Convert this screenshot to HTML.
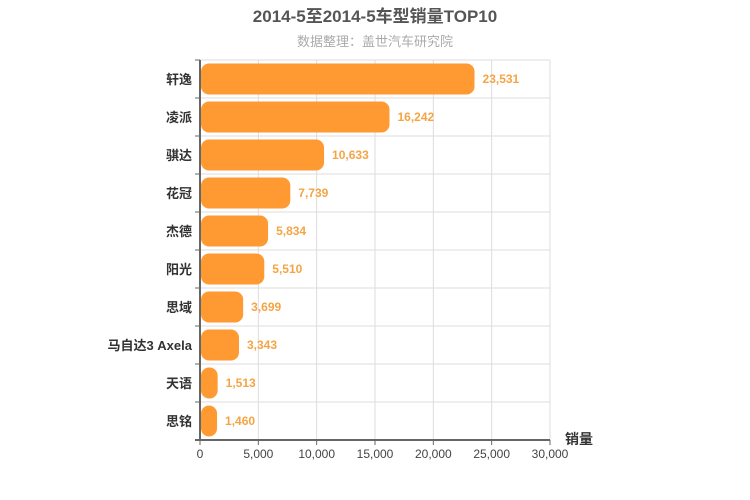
<!DOCTYPE html>
<html><head><meta charset="utf-8"><style>
body{margin:0;background:#fff;}
svg{display:block;font-family:"Liberation Sans","Noto Sans CJK SC",sans-serif;}
</style></head><body>
<svg id="c" width="750" height="500">
<text x="375" y="22" text-anchor="middle" font-size="17" font-weight="bold" fill="#555">2014-5至2014-5车型销量TOP10</text>
<text x="375" y="46" text-anchor="middle" font-size="13" fill="#aaa">数据整理：盖世汽车研究院</text>
<g id="grid"></g><g id="bars"></g><g id="axes"></g>
<text x="565" y="444" font-size="14" font-weight="bold" fill="#333">销量</text>
</svg>
<script>
const categories=["轩逸","凌派","骐达","花冠","杰德","阳光","思域","马自达3 Axela","天语","思铭"];
const values=[23531,16242,10633,7739,5834,5510,3699,3343,1513,1460];
const ticks=[0,5000,10000,15000,20000,25000,30000];
const X0=200,X1=550,Y0=60,Y1=440,MAX=30000;
const ns="http://www.w3.org/2000/svg";
const x=v=>X0+(v/MAX)*(X1-X0);
const rowH=(Y1-Y0)/categories.length;
const y=i=>Y0+i*rowH;
const fmt=v=>v.toLocaleString("en-US");
function mk(t,a,p){const e=document.createElementNS(ns,t);for(const k in a)e.setAttribute(k,a[k]);p.appendChild(e);return e;}
const g=document.getElementById("grid"),b=document.getElementById("bars"),ax=document.getElementById("axes");
ticks.forEach(t=>{
 if(t>0){const l=mk("line",{x1:x(t),x2:x(t),y1:Y0,y2:Y1,stroke:"#ddd"},g);
 
 }
 const tk=mk("line",{x1:x(t),x2:x(t),y1:Y1,y2:Y1+5,stroke:"#666"},ax);
 
 
 const tx=mk("text",{x:x(t),y:Y1+18,"text-anchor":"middle","font-size":12,fill:"#444"},ax);
 tx.textContent=fmt(t);
 
 
});
categories.forEach((c,i)=>{
 if(i>0){const l=mk("line",{x1:X0,x2:X1,y1:y(i),y2:y(i),stroke:"#ddd"},g);
 
 }
 const tk=mk("line",{x1:X0-5,x2:X0,y1:y(i),y2:y(i),stroke:"#666"},ax);
 
 
 const r=mk("rect",{x:X0+1,y:y(i)+3.5,width:Math.max(x(values[i])-X0-1,0),height:rowH-7,rx:8,ry:8,fill:"#ff9a33"},b);
 
 
 const vl=mk("text",{x:x(values[i])+8,y:y(i)+rowH/2+4,"font-size":12,"font-weight":"bold",fill:"#f5a445"},b);
 vl.textContent=fmt(values[i]);
 
 
 const cl=mk("text",{x:X0-8,y:y(i)+rowH/2+5,"text-anchor":"end","font-size":13,"font-weight":"bold",fill:"#333"},ax);
 cl.textContent=c;
 
 
});
mk("line",{x1:X1,x2:X1,y1:Y0,y2:Y1,stroke:"#ddd"},g);
mk("line",{x1:X0,x2:X1,y1:Y0,y2:Y0,stroke:"#ddd"},g);
const ya=mk("line",{x1:X0,x2:X0,y1:Y0,y2:Y1,stroke:"#666","stroke-width":2},ax);


const xa=mk("line",{x1:X0-5,x2:X1,y1:Y1,y2:Y1,stroke:"#666","stroke-width":2},ax);


const t0=mk("line",{x1:X0-5,x2:X0,y1:Y0,y2:Y0,stroke:"#666"},ax);


</script>
</body></html>
